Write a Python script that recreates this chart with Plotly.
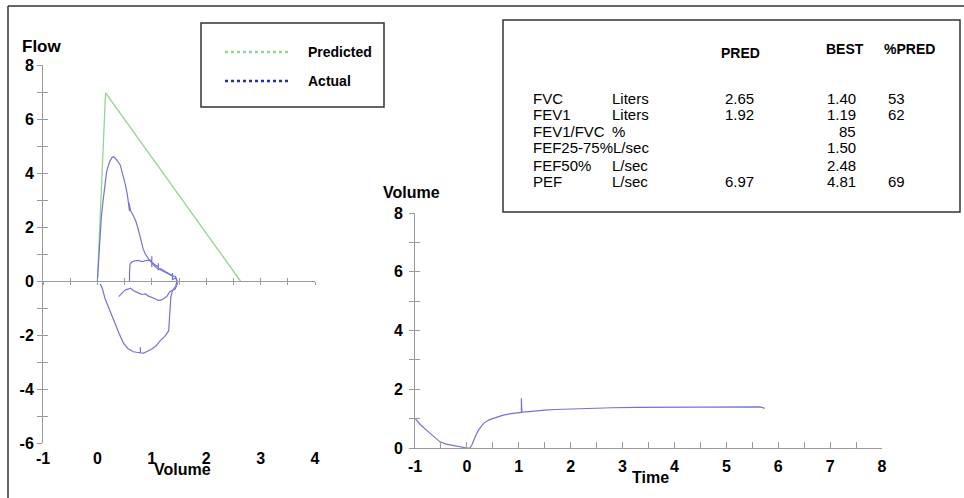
import plotly.graph_objects as go

W, H = 964, 498

# ---------------- data ----------------
pred_vol = [0.0, 0.15, 2.63]
pred_flow = [0.0, 6.97, 0.0]

# forced expiration + inspiration loop
act_vol = [0.0, 0.02, 0.04, 0.07, 0.10, 0.13, 0.12, 0.14, 0.17, 0.22, 0.27, 0.30, 0.34, 0.42, 0.47,
           0.51, 0.55, 0.58, 0.59, 0.58, 0.61, 0.64, 0.70, 0.74, 0.77, 0.80, 0.84, 0.88, 0.94,
           1.00, 1.00, 1.00, 1.00, 1.08, 1.12, 1.12, 1.12, 1.16, 1.28, 1.38, 1.38, 1.38, 1.44, 1.46,
           1.44, 1.38, 1.35, 1.34, 1.33, 1.31, 1.24, 1.16, 1.08, 1.00, 0.92, 0.85, 0.79, 0.79,
           0.79, 0.72, 0.66, 0.56, 0.48, 0.40, 0.31, 0.20, 0.14, 0.09, 0.05]
act_flow = [0.0, 0.8, 1.6, 2.3, 2.9, 3.5, 3.3, 3.6, 4.05, 4.4, 4.58, 4.6, 4.52, 4.3, 3.95,
            3.6, 3.2, 2.85, 2.6, 2.9, 2.6, 2.5, 2.25, 2.0, 1.75, 1.45, 1.2, 1.0, 0.82,
            0.72, 0.92, 0.52, 0.7, 0.57, 0.52, 0.66, 0.42, 0.46, 0.30, 0.19, 0.3, 0.05, 0.12, 0.0,
            -0.2, -0.35, -0.6, -1.0, -1.5, -1.85, -2.05, -2.2, -2.4, -2.52, -2.6, -2.67, -2.66, -2.45,
            -2.66, -2.64, -2.62, -2.5, -2.3, -1.95, -1.5, -0.95, -0.65, -0.27, -0.1]

# tidal breathing loop
tid_vol = [0.39, 0.45, 0.48, 0.51, 0.56, 0.61, 0.66, 0.70, 0.76, 0.82, 0.88, 0.94, 1.00, 1.06,
           1.12, 1.18, 1.24, 1.28, 1.33, 1.38, 1.43, 1.47, 1.46, 1.43, 1.37, 1.28, 1.16, 1.08,
           1.03, 0.96, 0.90, 0.82, 0.75, 0.69, 0.63, 0.60, 0.59, 0.59]
tid_flow = [-0.58, -0.45, -0.38, -0.33, -0.30, -0.27, -0.35, -0.40, -0.45, -0.50, -0.48, -0.56,
            -0.60, -0.66, -0.72, -0.70, -0.62, -0.56, -0.40, -0.35, -0.30, -0.10, 0.05, 0.17,
            0.20, 0.29, 0.41, 0.50, 0.60, 0.77, 0.76, 0.72, 0.76, 0.75, 0.70, 0.62, 0.30, 0.0]

# volume-time curve
time_s = [-1.0, -0.9, -0.78, -0.65, -0.52, -0.4, -0.26, -0.1, 0.0, 0.06, 0.1, 0.16, 0.22, 0.32,
          0.42, 0.51, 0.7, 0.85, 1.02, 1.05, 1.05, 1.06, 1.2, 1.34, 1.5, 1.7, 2.0, 2.31, 2.8,
          3.27, 4.0, 4.55, 5.2, 5.65, 5.74]
vol_l = [1.01, 0.8, 0.61, 0.4, 0.21, 0.13, 0.08, 0.02, 0.0, 0.0, 0.12, 0.38, 0.6, 0.84,
         0.95, 1.01, 1.12, 1.17, 1.21, 1.21, 1.69, 1.22, 1.24, 1.27, 1.29, 1.31, 1.33, 1.35, 1.37,
         1.38, 1.39, 1.40, 1.40, 1.40, 1.35]

# tick labels
flow_ticks = [-6, -4, -2, 0, 2, 4, 6, 8]
vol_ticks_fv = [-1, 0, 1, 2, 3, 4]
vol_ticks_vt = [0, 2, 4, 6, 8]
time_ticks = [-1, 0, 1, 2, 3, 4, 5, 6, 7, 8]

# table
tbl_headers = ["PRED", "BEST", "%PRED"]
tbl_names = ["FVC", "FEV1", "FEV1/FVC", "FEF25-75%", "FEF50%", "PEF"]
tbl_units = ["Liters", "Liters", "%", "L/sec", "L/sec", "L/sec"]
tbl_pred = ["2.65", "1.92", "", "", "", "6.97"]
tbl_best = ["1.40", "1.19", "85", "1.50", "2.48", "4.81"]
tbl_pct = ["53", "62", "", "", "", "69"]

legend_labels = ["Predicted", "Actual"]

# ---------------- helpers ----------------
def px(x):
    return x / W

def py(y):
    return 1 - y / H

def lab(v):
    return [str(t) for t in v]  # ASCII hyphen minus like the original

FONT = "Liberation Sans, Arial, sans-serif"
AX = "#9a9a9a"
GREEN = "#92d492"
BLUE = "#7373d6"

fig = go.Figure()
fig.add_trace(go.Scatter(x=pred_vol, y=pred_flow, mode="lines", name="Predicted",
                         line=dict(color=GREEN, width=1.3), xaxis="x", yaxis="y"))
fig.add_trace(go.Scatter(x=act_vol, y=act_flow, mode="lines", name="Actual",
                         line=dict(color=BLUE, width=1.2), xaxis="x", yaxis="y"))
fig.add_trace(go.Scatter(x=tid_vol, y=tid_flow, mode="lines", name="Actual", showlegend=False,
                         line=dict(color=BLUE, width=1.2), xaxis="x", yaxis="y"))
fig.add_trace(go.Scatter(x=time_s, y=vol_l, mode="lines", name="Volume",
                         line=dict(color=BLUE, width=1.2), xaxis="x2", yaxis="y2"))
# empty traces to register overlay axes
for xa, ya in [("x3", "y"), ("x4", "y"), ("x", "y3"), ("x2", "y4")]:
    fig.add_trace(go.Scatter(x=[None], y=[None], mode="lines", showlegend=False,
                             hoverinfo="skip", xaxis=xa, yaxis=ya))

tickfont = dict(family=FONT, size=16, color="black", weight="bold")

L_DOM_X = [px(43), px(315)]
L_DOM_Y = [py(443), py(65)]
R_DOM_X = [px(415), px(882)]
R_DOM_Y = [py(448), py(213)]

common = dict(showgrid=False, zeroline=False, automargin=False)

fig.update_layout(
    width=W, height=H, margin=dict(l=0, r=0, t=0, b=0, pad=0, autoexpand=False),
    paper_bgcolor="white", plot_bgcolor="rgba(0,0,0,0)", showlegend=False,
    xaxis=dict(domain=L_DOM_X, range=[-1, 4], anchor="y", showline=False, ticks="",
               tickvals=vol_ticks_fv, ticktext=lab(vol_ticks_fv), tickfont=tickfont,
               ticklabelstandoff=4, **common),
    yaxis=dict(domain=L_DOM_Y, range=[-6, 8], anchor="x", showline=True, linecolor=AX,
               linewidth=1, ticks="outside", ticklen=5, tickcolor=AX,
               tickvals=flow_ticks, ticktext=lab(flow_ticks),
               minor=dict(dtick=1, tick0=0, ticks="outside", ticklen=5, tickcolor=AX, showgrid=False),
               tickfont=tickfont, **common),
    xaxis3=dict(overlaying="x", anchor="free", position=py(281), range=[-1, 4],
                showline=True, linecolor=AX, linewidth=1, ticks="outside", ticklen=3,
                tickcolor=AX, dtick=0.5, tick0=0, showticklabels=False, **common),
    xaxis4=dict(overlaying="x", anchor="free", position=py(281), range=[-1, 4],
                showline=False, ticks="inside", ticklen=3, tickcolor=AX, dtick=0.5, tick0=0,
                showticklabels=False, **common),
    yaxis3=dict(overlaying="y", anchor="x", range=[-6, 8], showline=False, ticks="inside",
                ticklen=5, tickcolor=AX, dtick=1, tick0=0, showticklabels=False, **common),
    xaxis2=dict(domain=R_DOM_X, range=[-1, 8], anchor="y2", showline=True, linecolor=AX,
                linewidth=1, ticks="inside", ticklen=6, tickcolor=AX,
                tickvals=time_ticks, ticktext=lab(time_ticks),
                minor=dict(dtick=0.5, tick0=0, ticks="inside", ticklen=6, tickcolor=AX, showgrid=False),
                tickfont=tickfont, ticklabelstandoff=4, **common),
    yaxis2=dict(domain=R_DOM_Y, range=[0, 8], anchor="x2", showline=True, linecolor=AX,
                linewidth=1, ticks="outside", ticklen=5, tickcolor=AX,
                tickvals=vol_ticks_vt, ticktext=lab(vol_ticks_vt),
                minor=dict(dtick=1, tick0=0, ticks="outside", ticklen=5, tickcolor=AX, showgrid=False),
                tickfont=tickfont, ticklabelstandoff=3, **common),
    yaxis4=dict(overlaying="y2", anchor="x2", range=[0, 8], showline=False, ticks="inside",
                ticklen=5, tickcolor=AX, dtick=1, tick0=0, showticklabels=False, **common),
)

shapes = []
FR = "#333333"
# image frame (top and left)
shapes.append(dict(type="line", xref="paper", yref="paper", x0=px(8), x1=1, y0=py(6), y1=py(6),
                   line=dict(color=FR, width=1.5)))
shapes.append(dict(type="line", xref="paper", yref="paper", x0=px(8), x1=px(8), y0=py(6), y1=0,
                   line=dict(color=FR, width=1.5)))
# legend box
shapes.append(dict(type="rect", xref="paper", yref="paper", x0=px(201), x1=px(384),
                   y0=py(107), y1=py(23), line=dict(color=FR, width=1.5)))
shapes.append(dict(type="line", xref="paper", yref="paper", x0=px(225), x1=px(290),
                   y0=py(52), y1=py(52), line=dict(color="#8fd68f", width=2.5, dash="dot")))
shapes.append(dict(type="line", xref="paper", yref="paper", x0=px(225), x1=px(290),
                   y0=py(81), y1=py(81), line=dict(color="#2a2ab0", width=2.5, dash="dot")))
# table box
shapes.append(dict(type="rect", xref="paper", yref="paper", x0=px(503), x1=px(960),
                   y0=py(212), y1=py(20), line=dict(color=FR, width=1.5)))

annotations = []

def txt(text, x, y, size=16, bold=True, xanchor="center"):
    annotations.append(dict(text=text, x=px(x), y=py(y), xref="paper", yref="paper",
                            showarrow=False, xanchor=xanchor, yanchor="middle", borderpad=0,
                            font=dict(family=FONT, size=size, color="black",
                                      weight="bold" if bold else "normal")))

# axis titles
txt("Flow", 41, 47, size=17)
txt("Volume", 182, 469, size=16)
txt("Volume", 411, 192, size=16)
txt("Time", 650, 477, size=16)
# legend labels
txt(legend_labels[0], 307, 52, size=14, xanchor="left")
txt(legend_labels[1], 307, 81, size=14, xanchor="left")
# table headers
txt(tbl_headers[0], 740, 53, size=14)
txt(tbl_headers[1], 845, 49, size=14)
txt(tbl_headers[2], 909, 49, size=14)
row_y = [98, 115, 131.5, 148, 165, 181.5]
for i, yv in enumerate(row_y):
    if len(tbl_names[i]) > 8:
        # name runs straight into its unit in the original printout
        txt(tbl_names[i] + tbl_units[i], 532, yv, size=15, bold=False, xanchor="left")
    else:
        txt(tbl_names[i], 532, yv, size=15, bold=False, xanchor="left")
        txt(tbl_units[i], 611, yv, size=15, bold=False, xanchor="left")
    if tbl_pred[i]:
        txt(tbl_pred[i], 755, yv, size=15, bold=False, xanchor="right")
    if tbl_best[i]:
        txt(tbl_best[i], 857, yv, size=15, bold=False, xanchor="right")
    if tbl_pct[i]:
        txt(tbl_pct[i], 906, yv, size=15, bold=False, xanchor="right")

fig.update_layout(shapes=shapes, annotations=annotations)
# remove the browser's default 8px body margin so the figure sits at the page origin
fig.write_html("out.html", config={"displayModeBar": False},
               post_script="document.body.style.margin='0';document.body.style.overflow='hidden';")
